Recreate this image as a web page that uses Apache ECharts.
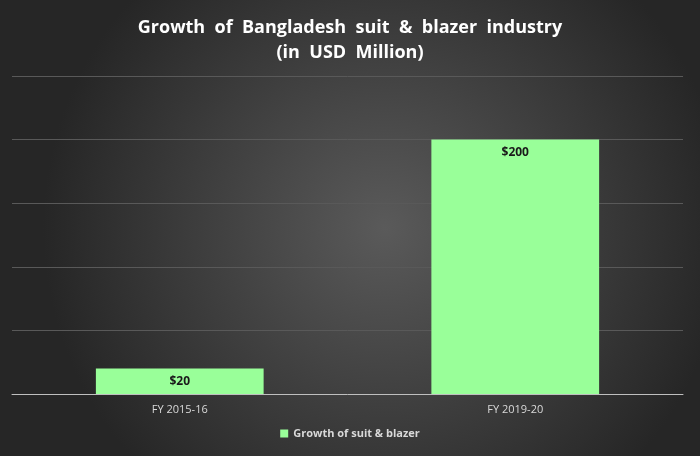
<!DOCTYPE html>
<html>
<head>
<meta charset="utf-8">
<script src="https://cdn.jsdelivr.net/npm/echarts@6/dist/echarts.min.js"></script>
<style>
html, body { margin: 0; padding: 0; }
#chart { width: 700px; height: 456px; }
</style>
</head>
<body>
<div id="chart"></div>
<script>
// 数据
const categories = ['FY 2015-16', 'FY 2019-20']
const values = [20, 200]
const seriesName = 'Growth of suit & blazer'

const chart = echarts.init(document.getElementById('chart'))
const option = {
	backgroundColor: {
		type: 'radial',
		x: 0.55,
		y: 0.5,
		r: 0.75,
		colorStops: [
			{ offset: 0, color: '#5a5a5a' },
			{ offset: 1, color: '#262626' }
		]
	},
	title: {
		text: 'Growth  of  Bangladesh  suit  &  blazer  industry\n(in  USD  Million)',
		left: 'center',
		top: 10,
		textStyle: {
			color: '#ffffff',
			fontFamily: 'Open Sans',
			fontWeight: 'bold',
			fontSize: 18,
			lineHeight: 25
		}
	},
	legend: {
		bottom: 12,
		left: 'center',
		itemWidth: 8,
		itemHeight: 8,
		itemGap: 4,
		icon: 'rect',
		textStyle: {
			color: '#d9d9d9',
			fontFamily: 'Open Sans',
			fontWeight: 'bold',
			fontSize: 11
		},
		data: [seriesName]
	},
	grid: {
		left: 12,
		right: 17,
		top: 76,
		bottom: 62
	},
	xAxis: {
		type: 'category',
		data: categories,
		axisLine: { lineStyle: { color: '#bfbfbf', width: 1 } },
		axisTick: { show: false },
		axisLabel: {
			color: '#d9d9d9',
			fontFamily: 'Open Sans',
			fontSize: 11,
			margin: 10
		}
	},
	yAxis: {
		type: 'value',
		min: 0,
		max: 250,
		interval: 50,
		axisLabel: { show: false },
		axisLine: { show: false },
		axisTick: { show: false },
		splitLine: { lineStyle: { color: '#595959', width: 1 } }
	},
	series: [
		{
			name: seriesName,
			type: 'bar',
			data: values,
			barWidth: '50%',
			itemStyle: { color: '#99ff99' },
			label: {
				show: true,
				position: 'insideTop',
				distance: 7,
				formatter: '${c}',
				color: '#1a1a1a',
				fontFamily: 'Open Sans',
				fontWeight: 'bold',
				fontSize: 12
			}
		}
	]
}
chart.setOption(option)
</script>
</body>
</html>
